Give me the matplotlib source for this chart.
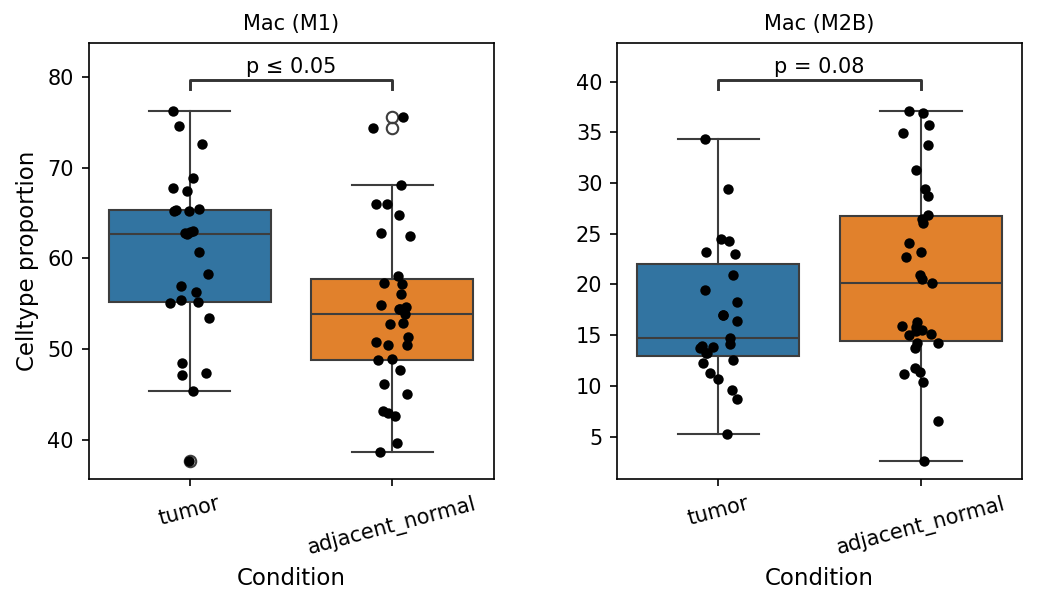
import numpy as np
import matplotlib
matplotlib.use("Agg")
import matplotlib.pyplot as plt

# ---------------- data ----------------
conditions = ["tumor", "adjacent_normal"]
colors = ["#3274a1", "#e1812c"]

m1_tumor = [76.25, 74.6, 72.6, 68.9, 67.8, 67.4, 65.26, 65.33, 65.4, 65.2,
            62.76, 62.87, 62.69, 63.0, 60.67, 58.25, 57.0, 56.33, 55.23, 55.4,
            55.05, 53.4, 48.5, 47.1, 47.4, 45.4, 37.66]
m1_adjacent = [75.6, 74.4, 68.1, 66.0, 66.0, 64.8, 62.5, 62.8, 58.1, 57.25,
               57.18, 56.08, 54.86, 54.67, 54.38, 54.38, 53.9, 52.77, 52.9, 51.37,
               50.8, 50.5, 50.4, 48.9, 48.83, 47.7, 46.2, 45.0, 43.2, 42.6,
               42.9, 39.7, 38.6]
m2b_tumor = [34.35, 29.4, 24.25, 24.48, 23.0, 23.23, 20.93, 19.49, 18.3, 16.99,
             16.99, 16.4, 14.75, 14.1, 13.7, 13.8, 13.95, 13.2, 13.27, 12.55,
             12.22, 11.24, 10.65, 9.56, 8.67, 5.25]
m2b_adjacent = [37.1, 36.9, 35.7, 34.9, 33.8, 31.3, 29.4, 28.7, 26.85, 26.5,
                26.05, 24.1, 23.2, 22.7, 20.9, 20.5, 20.1, 16.3, 15.9, 15.5,
                15.0, 15.1, 15.45, 15.8, 14.25, 14.2, 13.7, 11.8, 11.4, 11.2,
                10.4, 6.5, 2.6]

# box statistics: (whislo, q1, med, q3, whishi)
m1_box = [(45.4, 55.23, 62.72, 65.34, 76.25), (38.65, 48.85, 53.9, 57.73, 68.1)]
m2b_box = [(5.25, 12.97, 14.75, 21.99, 34.35), (2.62, 14.43, 20.11, 26.78, 37.11)]

titles = ["Mac (M1)", "Mac (M2B)"]
pvals = ["p \u2264 0.05", "p = 0.08"]
bracket_y = [79.7, 40.16]
bracket_tip = [78.65, 39.25]
ylims = [(35.71, 83.78), (0.85, 43.84)]
yticks = [[40, 50, 60, 70, 80], [5, 10, 15, 20, 25, 30, 35, 40]]

panels = [(m1_tumor, m1_adjacent), (m2b_tumor, m2b_adjacent)]
boxes = [m1_box, m2b_box]

# ---------------- plot ----------------
W, H, DPI = 1039, 605, 150
fig = plt.figure(figsize=(W / DPI, H / DPI), dpi=DPI)
positions = [(88.5, 126.3, 405.2, 436.0), (617.0, 126.3, 405.3, 436.0)]
line_col = "#3d3d3d"
rng = np.random.default_rng(3)

for k in range(2):
    l, b, w, h = positions[k]
    ax = fig.add_axes([l / W, b / H, w / W, h / H])
    stats = []
    for i, vals in enumerate(panels[k]):
        lo, q1, med, q3, hi = boxes[k][i]
        fl = [v for v in vals if v < lo - 0.05 or v > hi + 0.05]
        stats.append(dict(whislo=lo, q1=q1, med=med, q3=q3, whishi=hi, fliers=fl, label=conditions[i]))
    bp = ax.bxp(stats, positions=[0, 1], widths=0.8, patch_artist=True, capwidths=0.4,
                boxprops=dict(edgecolor=line_col, linewidth=1.0),
                medianprops=dict(color=line_col, linewidth=1.0),
                whiskerprops=dict(color=line_col, linewidth=1.0),
                capprops=dict(color=line_col, linewidth=1.0),
                flierprops=dict(marker="o", markersize=5.5, markerfacecolor="none",
                                markeredgecolor=line_col, markeredgewidth=1.0))
    for patch, c in zip(bp["boxes"], colors):
        patch.set_facecolor(c)
    for i, vals in enumerate(panels[k]):
        v = np.asarray(vals)
        x = i + rng.uniform(-0.1, 0.1, len(v))
        ax.scatter(x, v, s=25, color="black", zorder=5, linewidths=0)

    # significance bracket
    yb, yt = bracket_y[k], bracket_tip[k]
    ax.plot([0, 0, 1, 1], [yt, yb, yb, yt], color="#333333", linewidth=1.4, zorder=6)
    ax.annotate(pvals[k], xy=(0.5, yb), xytext=(0, 1.5), textcoords="offset points",
                ha="center", va="bottom", fontsize=10)

    ax.set_xlim(-0.5, 1.5)
    ax.set_ylim(*ylims[k])
    ax.set_yticks(yticks[k])
    ax.set_xticks([0, 1])
    ax.set_xticklabels(conditions, rotation=15, ha="center", fontsize=10)
    ax.tick_params(axis="y", labelsize=10)
    ax.set_xlabel("Condition", fontsize=11)
    if k == 0:
        ax.set_ylabel("Celltype proportion", fontsize=11)
    ax.set_title(titles[k], fontsize=10)

fig.savefig("out.png", dpi=DPI)
